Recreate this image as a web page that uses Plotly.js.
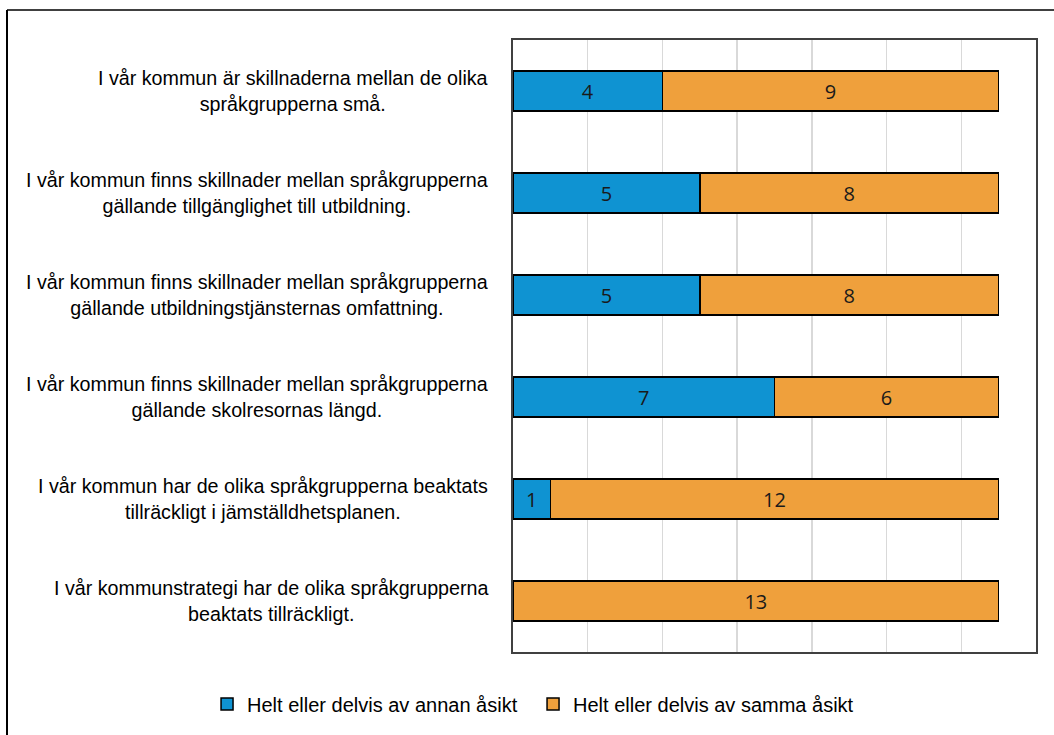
<!DOCTYPE html>
<html>
<head>
<meta charset="utf-8">
<script src="https://cdn.plot.ly/plotly-3.0.1.min.js"></script>
<style>html,body{margin:0;padding:0;background:#fff;}#chart{width:1054px;height:735px;}</style>
</head>
<body>
<div id="chart"></div>
<script>
const categories = [
  "I vår kommun är skillnaderna mellan de olika<br>språkgrupperna små.",
  "I vår kommun finns skillnader mellan språkgrupperna<br>gällande tillgänglighet till utbildning.",
  "I vår kommun finns skillnader mellan språkgrupperna<br>gällande utbildningstjänsternas omfattning.",
  "I vår kommun finns skillnader mellan språkgrupperna<br>gällande skolresornas längd.",
  "I vår kommun har de olika språkgrupperna beaktats<br>tillräckligt i jämställdhetsplanen.",
  "I vår kommunstrategi har de olika språkgrupperna<br>beaktats tillräckligt."
];
const catKeys = ["c1","c2","c3","c4","c5","c6"];
const seriesNames = ["Helt eller delvis av annan åsikt", "Helt eller delvis av samma åsikt"];
const annan = [4, 5, 5, 7, 1, 0];
const samma = [9, 8, 8, 6, 12, 13];
const colors = ["#0F93D2", "#EFA03C"];

function mk(vals, i) {
  return {
    type: "bar", orientation: "h", name: seriesNames[i],
    y: catKeys, x: vals,
    text: vals.map(v => v ? String(v) : ""),
    texttemplate: "%{text}",
    textposition: "inside", insidetextanchor: "middle",
    constraintext: "none",
    textfont: {family: "Open Sans, Noto Sans, sans-serif", size: 20, color: "#1a1a1a"},
    marker: {color: colors[i], line: {color: "#000", width: 1.5}},
    hoverinfo: "skip"
  };
}
const data = [mk(annan, 0), mk(samma, 1)];

const annotations = categories.map((c, k) => ({
  xref: "paper", yref: "y", x: -0.044, y: catKeys[k],
  xanchor: "right", yanchor: "middle", align: "center",
  text: c, showarrow: false,
  font: {family: "Liberation Sans, Arial, sans-serif", size: 19.7, color: "#000"}
}));

const layout = {
  width: 1054, height: 735,
  margin: {l: 513, r: 18, t: 40, b: 83},
  barmode: "stack", bargap: 0.61,
  paper_bgcolor: "#fff", plot_bgcolor: "#fff",
  showlegend: true,
  legend: {
    orientation: "h", xref: "paper", yref: "paper",
    x: -0.585, xanchor: "left", y: -0.085, yanchor: "middle",
    font: {family: "Liberation Sans, Arial, sans-serif", size: 20, color: "#000"},
    itemwidth: 30, traceorder: "normal", tracegroupgap: 0,
    entrywidth: 281, entrywidthmode: "pixels"
  },
  xaxis: {
    range: [0, 14], dtick: 2, tick0: 0, showticklabels: false, ticks: "",
    showgrid: true, gridcolor: "#d9d9d9", gridwidth: 1.5, zeroline: false,
    showline: true, linecolor: "#404040", linewidth: 2, mirror: true, fixedrange: true
  },
  yaxis: {
    type: "category", categoryorder: "array", categoryarray: catKeys,
    autorange: "reversed", showticklabels: false, ticks: "", showgrid: false,
    showline: true, linecolor: "#404040", linewidth: 2, mirror: true, zeroline: false, fixedrange: true
  },
  annotations: annotations,
  shapes: [
    {type: "line", xref: "paper", yref: "paper", x0: (7 - 513) / 523, x1: (7 - 513) / 523, y0: -1, y1: (652 - 10) / 612, line: {color: "#000", width: 2}},
    {type: "line", xref: "paper", yref: "paper", x0: (7 - 513) / 523, x1: 2, y0: (652 - 10) / 612, y1: (652 - 10) / 612, line: {color: "#000", width: 1.5}}
  ]
};

Plotly.newPlot("chart", data, layout, {displayModeBar: false, staticPlot: true});
</script>
</body>
</html>
